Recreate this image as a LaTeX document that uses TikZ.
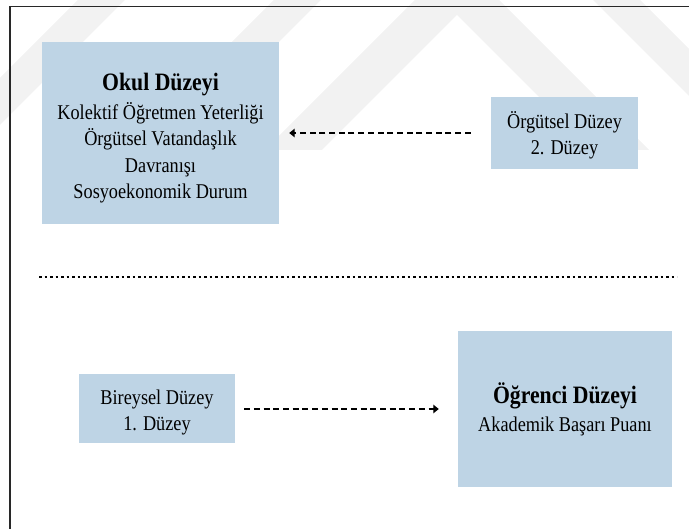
\documentclass[tikz,border=0pt]{standalone}
\usepackage{fontspec}
\setmainfont{Liberation Serif}[FakeStretch=0.87]
\usetikzlibrary{arrows.meta}

\definecolor{boxfill}{RGB}{190,212,229}
\definecolor{wmgray}{RGB}{242,242,242}
\definecolor{framegray}{RGB}{40,40,40}

\tikzset{
  levelbox/.style={fill=boxfill, inner sep=0pt, align=center,
    font=\fontsize{21}{26.5}\selectfont},
  flow/.style={line width=1.6pt, dash pattern=on 6pt off 3.7pt,
    -{Triangle[length=5.5pt,width=8.5pt]}},
  separator/.style={line width=2.6pt, dash pattern=on 2.6pt off 2.9pt},
  wm/.style={fill=wmgray},
  frameline/.style={draw=framegray, line width=1.8pt}
}
\newcommand{\boxhead}[1]{{\fontsize{25}{27}\selectfont\bfseries #1}}
\newcommand{\topstrut}[1]{\rule{0pt}{#1}}

\begin{document}
\begin{tikzpicture}[x=1pt,y=-1pt]
\useasboundingbox (0,0) rectangle (689,529);
\clip (0,0) rectangle (689,529);

% faint chevron logo in the background
\fill[wm] (265,150) -- (457,-42) -- (649,150) -- (592,150) -- (457,15) -- (322,150) -- cycle;
\fill[wm] (124,150) -- (457,-183) -- (790,150) -- (743,150) -- (457,-136) -- (171,150) -- cycle;
\fill[wm] (-72,150) -- (261,-183) -- (308,-183) -- (-25,150) -- cycle;

% level boxes
\node[levelbox, minimum width=237pt, minimum height=182pt] (okul) at (160.5,133)
  {\topstrut{28pt}\boxhead{Okul Düzeyi}\\[2.5pt]Kolektif Öğretmen Yeterliği\\Örgütsel Vatandaşlık\\Davranışı\\Sosyoekonomik Durum};
\node[levelbox, minimum width=147pt, minimum height=72pt] (orgutsel) at (564.5,133)
  {\topstrut{22pt}Örgütsel Düzey\\2. Düzey};
\node[levelbox, minimum width=156pt, minimum height=69pt] (bireysel) at (157,409)
  {\topstrut{22pt}Bireysel Düzey\\1. Düzey};
\node[levelbox, minimum width=214pt, minimum height=156pt] (ogrenci) at (565,409)
  {\boxhead{Öğrenci Düzeyi}\\[1.5pt]Akademik Başarı Puanı};

% links between levels
\draw[flow, shorten <=20pt, shorten >=10pt] (orgutsel.west) -- (okul.east |- orgutsel.west);
\draw[flow, shorten <=9pt, shorten >=19pt] (bireysel.east) -- (ogrenci.west |- bireysel.east);

% separator between the two levels
\coordinate (sepL) at (39,277);
\coordinate (sepR) at (677,277);
\draw[separator] (sepL) -- (sepR);

% outer frame
\coordinate (frameBL) at (10,545);
\coordinate (frameTR) at (705,6.5);
\draw[frameline] (frameBL) |- (frameTR);
\end{tikzpicture}
\end{document}
